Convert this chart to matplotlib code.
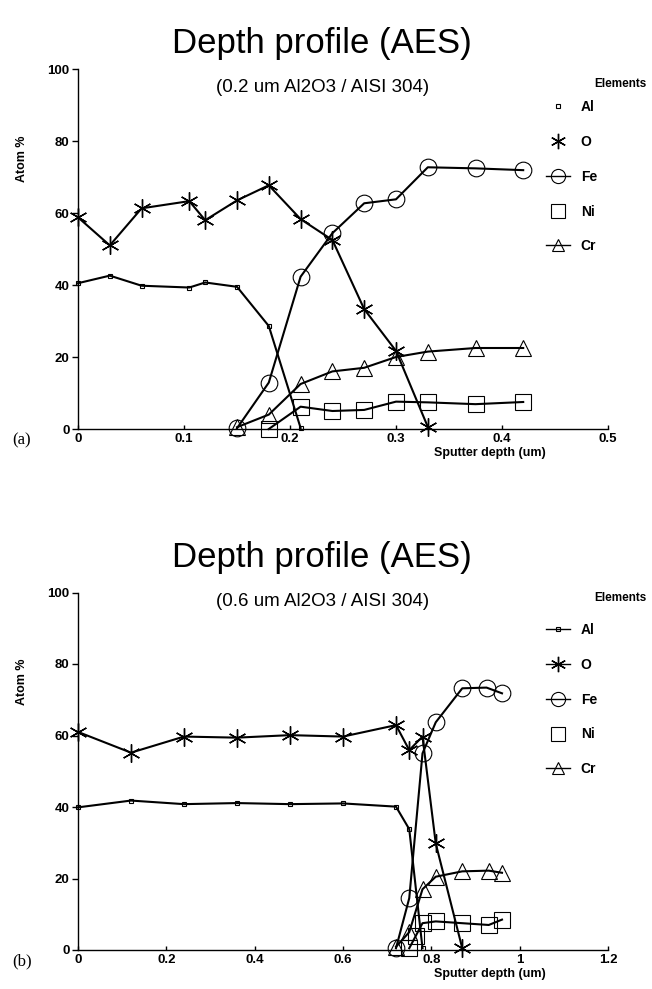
import matplotlib
matplotlib.use('Agg')
import matplotlib.pyplot as plt
from matplotlib.lines import Line2D

plt.rcParams['font.family'] = ['Liberation Sans', 'DejaVu Sans']

# ---- (a) 0.2 um Al2O3 / AISI 304 ----
a_al_x = [0, 0.03, 0.06, 0.105, 0.12, 0.15, 0.18, 0.21]
a_al_y = [40.5, 42.6, 39.8, 39.3, 40.7, 39.5, 28.6, 0.3]
a_o_x = [0, 0.03, 0.06, 0.105, 0.12, 0.15, 0.18, 0.21, 0.24, 0.27, 0.30, 0.33]
a_o_y = [58.8, 51.0, 61.3, 63.3, 58.0, 63.5, 67.7, 58.3, 52.5, 33.3, 21.7, 0.6]
a_fe_x = [0.15, 0.18, 0.21, 0.24, 0.27, 0.30, 0.33, 0.375, 0.42]
a_fe_y = [0.2, 12.9, 42.3, 54.4, 62.7, 63.8, 72.7, 72.4, 71.9]
a_ni_x = [0.18, 0.21, 0.24, 0.27, 0.30, 0.33, 0.375, 0.42]
a_ni_y = [0.0, 6.2, 5.0, 5.3, 7.6, 7.4, 6.9, 7.5]
a_cr_x = [0.15, 0.18, 0.21, 0.24, 0.27, 0.30, 0.33, 0.375, 0.42]
a_cr_y = [0.5, 4.0, 12.5, 16.0, 17.0, 20.0, 21.5, 22.5, 22.5]

# ---- (b) 0.6 um Al2O3 / AISI 304 ----
b_al_x = [0, 0.12, 0.24, 0.36, 0.48, 0.60, 0.72, 0.75, 0.78]
b_al_y = [39.9, 41.8, 40.8, 41.1, 40.8, 41.0, 40.1, 33.8, 0.5]
b_o_x = [0, 0.12, 0.24, 0.36, 0.48, 0.60, 0.72, 0.75, 0.78, 0.81, 0.87]
b_o_y = [61.0, 55.2, 59.7, 59.4, 60.1, 59.7, 62.9, 55.9, 59.7, 29.8, 0.5]
b_fe_x = [0.72, 0.75, 0.78, 0.81, 0.87, 0.925, 0.96]
b_fe_y = [0.5, 14.5, 55.0, 63.7, 73.2, 73.4, 71.8]
b_ni_x = [0.75, 0.765, 0.78, 0.81, 0.87, 0.93, 0.96]
b_ni_y = [0.5, 4.0, 7.5, 8.0, 7.5, 7.0, 8.5]
b_cr_x = [0.72, 0.75, 0.78, 0.81, 0.87, 0.93, 0.96]
b_cr_y = [0.9, 5.0, 17.0, 20.5, 22.0, 22.2, 21.6]

elements = ['Al', 'O', 'Fe', 'Ni', 'Cr']
a_ticks = [0, 0.1, 0.2, 0.3, 0.4, 0.5]
b_ticks = [0, 0.2, 0.4, 0.6, 0.8, 1, 1.2]
y_ticks = [0, 20, 40, 60, 80, 100]

STAR = (6, 2, 0)
styles = {
    'Al': dict(marker='s', ms=3, mew=0.8),
    'O': dict(marker=STAR, ms=13, mew=1.0),
    'Fe': dict(marker='o', ms=12, mew=0.8),
    'Ni': dict(marker='s', ms=12, mew=0.8),
    'Cr': dict(marker='^', ms=11, mew=0.8),
}

W, H = 652, 989
fig = plt.figure(figsize=(W / 100, H / 100), dpi=100)


def px(x, y):
    return x / W, 1 - y / H


def panel(bottom_px, top_px, xmax, xticks, series, subtitle, tag, legend_lines, title_y, leg_top):
    l, b = px(78, bottom_px)
    r, t = px(608, top_px)
    ax = fig.add_axes([l, b, r - l, t - b])
    for name, (xs, ys) in zip(elements, series):
        ax.plot(xs, ys, color='black', lw=1.5, mfc='none', mec='black', clip_on=False,
                **styles[name])
    ax.set_xlim(0, xmax)
    ax.set_ylim(0, 100)
    ax.set_xticks(xticks)
    ax.set_xticklabels([f'{v:g}' for v in xticks])
    ax.set_yticks(y_ticks)
    for s in ['top', 'right']:
        ax.spines[s].set_visible(False)
    for s in ['left', 'bottom']:
        ax.spines[s].set_linewidth(1.0)
    ax.tick_params(axis='y', direction='out', length=4, width=1, labelsize=9.5, pad=2)
    ax.tick_params(axis='x', direction='in', length=3, width=1, labelsize=9.5, pad=3)
    for lab in ax.get_xticklabels() + ax.get_yticklabels():
        lab.set_fontweight('bold')
    ax.set_xlabel('Sputter depth (um)', fontsize=9, fontweight='bold')
    ax.xaxis.set_label_coords(0.777, -0.05)
    ax.set_ylabel('Atom %', fontsize=9, fontweight='bold')
    ax.yaxis.set_label_coords(-0.095, 0.75)

    tx, ty = px(322, title_y)
    fig.text(tx, ty, 'Depth profile (AES)', ha='center', va='center', fontsize=25)
    sx, sy = px(323, title_y + 44)
    fig.text(sx, sy, subtitle, ha='center', va='center', fontsize=13.5)
    ex, ey = px(620, title_y + 40)
    fig.text(ex, ey, 'Elements', ha='center', va='center', fontsize=8.5, fontweight='bold')
    lx, ly = px(12, bottom_px + 11)
    fig.text(lx, ly, tag, ha='left', va='center', fontsize=12,
             family=['Liberation Serif', 'DejaVu Serif'])

    handles = []
    for name, with_line in zip(elements, legend_lines):
        st = dict(styles[name])
        st['ms'] = st['ms'] * 0.85
        handles.append(Line2D([], [], color='black', lw=1.0 if with_line else 0,
                              ls='-' if with_line else 'none', mfc='none', mec='black', **st))
    ax_l, ay_l = px(546, leg_top)
    fig.legend(handles, elements, loc='upper left', bbox_to_anchor=(ax_l, ay_l),
               frameon=False, prop=dict(size=10, weight='bold'), borderpad=0,
               borderaxespad=0, handlelength=1.7, handletextpad=0.8,
               labelspacing=1.5)
    return ax


panel(429, 69, 0.5, a_ticks,
      [(a_al_x, a_al_y), (a_o_x, a_o_y), (a_fe_x, a_fe_y), (a_ni_x, a_ni_y), (a_cr_x, a_cr_y)],
      '(0.2 um Al2O3 / AISI 304)', '(a)', [False, False, True, False, True], 44, 100)

panel(950, 592.5, 1.2, b_ticks,
      [(b_al_x, b_al_y), (b_o_x, b_o_y), (b_fe_x, b_fe_y), (b_ni_x, b_ni_y), (b_cr_x, b_cr_y)],
      '(0.6 um Al2O3 / AISI 304)', '(b)', [True, True, True, False, True], 558, 623)

fig.savefig('out.png', dpi=100, facecolor='white')
